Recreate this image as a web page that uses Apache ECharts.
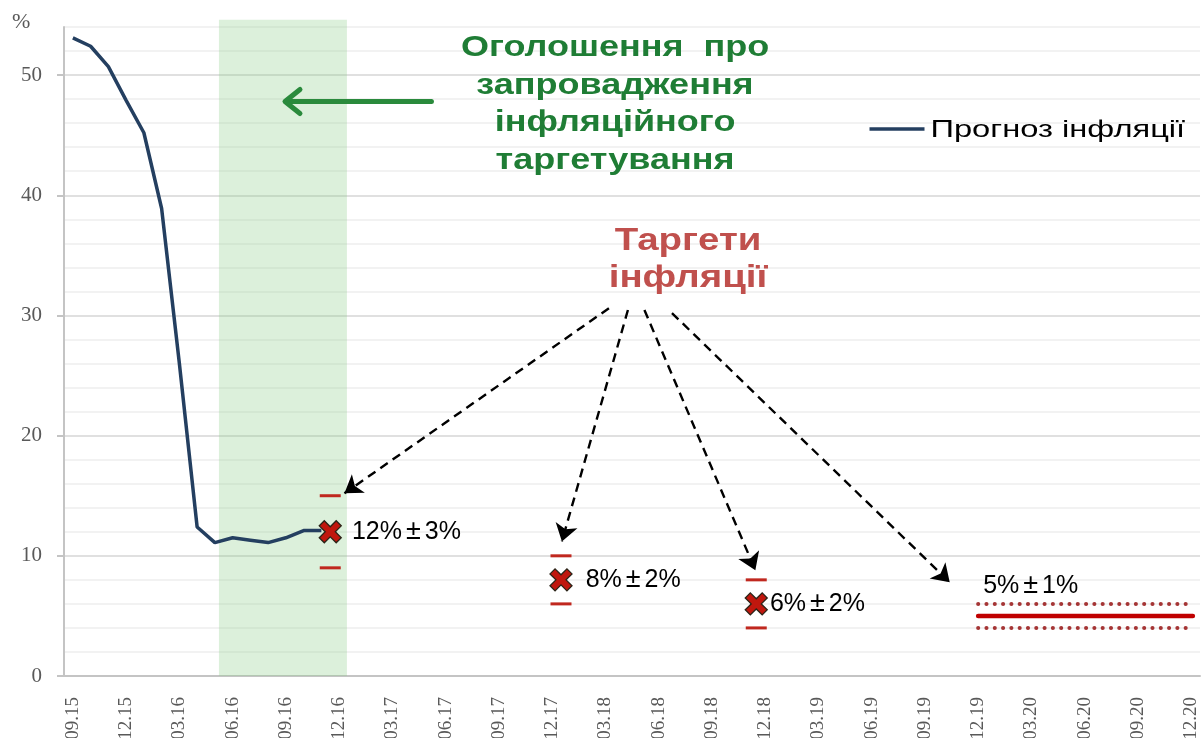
<!DOCTYPE html>
<html>
<head>
<meta charset="utf-8">
<script src="https://cdn.jsdelivr.net/npm/echarts@6/dist/echarts.min.js"></script>
<style>
  html, body { margin: 0; padding: 0; background: #fff; }
  #chart { width: 1203px; height: 738px; }
</style>
</head>
<body>
<div id="chart"></div>
<script>
// Monthly categories, Sep 2015 – Dec 2020 (every third one is labelled)
const months = [
  '09.15','10.15','11.15','12.15',
  '01.16','02.16','03.16','04.16','05.16','06.16','07.16','08.16','09.16','10.16','11.16','12.16',
  '01.17','02.17','03.17','04.17','05.17','06.17','07.17','08.17','09.17','10.17','11.17','12.17',
  '01.18','02.18','03.18','04.18','05.18','06.18','07.18','08.18','09.18','10.18','11.18','12.18',
  '01.19','02.19','03.19','04.19','05.19','06.19','07.19','08.19','09.19','10.19','11.19','12.19',
  '01.20','02.20','03.20','04.20','05.20','06.20','07.20','08.20','09.20','10.20','11.20','12.20'
];

// Inflation path, % y/y, monthly from 09.15
const seriesName = 'Прогноз інфляції';
const inflation = [53.1, 52.4, 50.7, 47.9, 45.2, 38.9, 26.0, 12.4, 11.1, 11.5, 11.3, 11.1, 11.5, 12.1, 12.1];

// Point targets: position on the month scale, target and tolerance
const targetPos = [14.5, 27.5, 38.5];
const targetVal = [12, 8, 6];
const targetTol = [3, 2, 2];
const targetLabelGap = [10, 13, 2];

// Medium-term target band
const longTargetSpan = [51.0, 63.1];
const longTargetVal = 5;
const longTargetTol = 1;

// Period of the inflation-targeting announcement (month scale) and top of the shaded band
const announceSpan = [8.23, 15.44];
const announceTop = 54.6;

// Annotation arrows in chart units [month, %]
const greenArrow = [[20.2, 47.8], [11.95, 47.8]];
const targetArrows = [
  [[30.2, 30.6], [15.3, 15.2]],
  [[31.27, 30.45], [27.55, 11.2]],
  [[32.2, 30.45], [38.45, 8.8]],
  [[33.75, 30.2], [49.4, 7.8]]
];

const yMajor = [0, 10, 20, 30, 40, 50];

const chart = echarts.init(document.getElementById('chart'));

const crossPath = 'path://M2.3,0 L5,2.7 L7.7,0 L10,2.3 L7.3,5 L10,7.7 L7.7,10 L5,7.3 L2.3,10 L0,7.7 L2.7,5 L0,2.3 Z';

const targetPoints = targetPos.map((x, i) => ({
  value: [x, targetVal[i], targetTol[i]],
  label: { distance: targetLabelGap[i] }
}));
const tolMarks = [];
targetPos.forEach((x, i) => {
  tolMarks.push([x, targetVal[i] + targetTol[i]]);
  tolMarks.push([x, targetVal[i] - targetTol[i]]);
});

const serif = '"Liberation Serif", "DejaVu Serif", serif';
const sans = '"Liberation Sans", Arial, sans-serif';

const targetLabel = {
  show: true,
  formatter: p => '{n|' + p.value[1] + '%}{pm|±}{n|' + p.value[2] + '%}',
  rich: {
    n: { fontFamily: sans, fontSize: 25, color: '#000' },
    pm: { fontFamily: sans, fontSize: 27, color: '#000', padding: [0, 4, 0, 4] }
  }
};

chart.setOption({
  animation: false,
  backgroundColor: '#ffffff',
  grid: { left: 64, right: 3, top: 27, bottom: 62, outerBoundsMode: 'none', containLabel: false },
  graphic: [
    {
      type: 'text', left: 12, top: 11, z: 100,
      style: { text: '%', font: '22px ' + serif, fill: '#595959' }
    },
    {
      type: 'text', x: 615, y: 29, scaleX: 1.2, z: 100,
      style: {
        text: 'Оголошення  про\nзапровадження\nінфляційного\nтаргетування',
        font: 'bold 30px ' + sans, fill: '#1f7d35', align: 'center', lineHeight: 37.5
      }
    },
    {
      type: 'text', x: 688, y: 223, scaleX: 1.24, z: 100,
      style: {
        text: 'Таргети\nінфляції',
        font: 'bold 31px ' + sans, fill: '#c0504d', align: 'center', lineHeight: 37
      }
    },
    {
      // legend entry
      type: 'group', left: 867, top: 118, z: 100,
      children: [
        { type: 'line', z: 100, shape: { x1: 0, y1: 13, x2: 55, y2: 13 }, style: { stroke: '#243f60', lineWidth: 3.5 } },
        {
          type: 'text', z: 100, x: 61, y: 14, scaleX: 1.36,
          style: { text: seriesName, font: '24px ' + sans, fill: '#000', verticalAlign: 'middle' }
        }
      ]
    }
  ],
  xAxis: [
    {
      type: 'category', data: months, boundaryGap: true,
      axisLine: { onZero: false, lineStyle: { color: '#c4c4c4', width: 2 } },
      axisTick: { show: false },
      axisLabel: {
        interval: 2, rotate: 90, margin: 21,
        fontFamily: serif, fontSize: 19, color: '#595959'
      },
      splitLine: { show: false }
    },
    { type: 'value', min: -0.5, max: 63.5, show: false }
  ],
  yAxis: [
    {
      // fine grid every 2 p.p., heavier every 10
      type: 'value', min: 0, max: 54, interval: 2,
      axisLine: { show: true, onZero: false, lineStyle: { color: '#c4c4c4', width: 2 } },
      axisTick: { show: false },
      axisLabel: { show: false },
      splitLine: {
        show: true,
        lineStyle: { color: ['#d6d6d6', '#eeeeee', '#eeeeee', '#eeeeee', '#eeeeee'], width: 1.5 }
      }
    },
    {
      // labelled ticks
      type: 'value', min: 0, max: 54, interval: 10, position: 'left',
      axisLine: { show: false, onZero: false },
      axisTick: { show: true, length: 7, customValues: yMajor, lineStyle: { color: '#c4c4c4', width: 2 } },
      axisLabel: { customValues: yMajor, margin: 22, fontFamily: serif, fontSize: 21, color: '#595959' },
      splitLine: { show: false }
    }
  ],
  series: [
    {
      // shaded announcement period
      type: 'custom', xAxisIndex: 1, z: 1, silent: true,
      data: [[announceSpan[0], announceSpan[1], announceTop]],
      renderItem: function (params, api) {
        const p0 = api.coord([api.value(0), api.value(2)]);
        const p1 = api.coord([api.value(1), 0]);
        return {
          type: 'rect',
          shape: { x: p0[0], y: p0[1], width: p1[0] - p0[0], height: p1[1] - p0[1] },
          style: { fill: 'rgba(140, 205, 135, 0.3)' }
        };
      }
    },
    {
      name: seriesName,
      type: 'line', data: inflation, xAxisIndex: 0, z: 3,
      symbol: 'none', smooth: false,
      lineStyle: { color: '#243f60', width: 3.5 },
      itemStyle: { color: '#243f60' }
    },
    {
      // green pointer to the shaded period
      type: 'custom', xAxisIndex: 1, z: 4, silent: true,
      data: [[greenArrow[0][0], greenArrow[0][1], greenArrow[1][0], greenArrow[1][1]]],
      renderItem: function (params, api) {
        const a = api.coord([api.value(0), api.value(1)]);
        const b = api.coord([api.value(2), api.value(3)]);
        const st = { stroke: '#2a8a3c', lineWidth: 5, lineCap: 'round', lineJoin: 'round', fill: null };
        return {
          type: 'group',
          children: [
            { type: 'line', shape: { x1: a[0], y1: a[1], x2: b[0] + 2, y2: b[1] }, style: st },
            { type: 'polyline', shape: { points: [[b[0] + 15, b[1] - 12], [b[0], b[1]], [b[0] + 15, b[1] + 12]] }, style: st }
          ]
        };
      }
    },
    {
      // dashed pointers from the caption to each target
      type: 'lines', coordinateSystem: 'cartesian2d', xAxisIndex: 1, z: 4, silent: true,
      symbol: ['none', 'arrow'], symbolSize: 17,
      lineStyle: { color: '#000', width: 2.4, type: [9, 6], opacity: 1 },
      data: targetArrows.map(c => ({ coords: c }))
    },
    {
      // tolerance bounds of point targets
      type: 'scatter', xAxisIndex: 1, z: 5, silent: true,
      symbol: 'rect', symbolSize: [21, 3],
      itemStyle: { color: '#c0281f', opacity: 1 },
      data: tolMarks
    },
    {
      // point targets
      type: 'scatter', xAxisIndex: 1, z: 6, silent: true,
      symbol: crossPath, symbolSize: 22,
      itemStyle: { color: '#c0170e', borderColor: '#2a2418', borderWidth: 1.3, opacity: 1 },
      label: Object.assign({ position: 'right' }, targetLabel),
      data: targetPoints
    },
    {
      // medium-term target
      type: 'line', xAxisIndex: 1, z: 5, silent: true, symbol: 'none',
      lineStyle: { color: '#c00000', width: 4.5, cap: 'round' },
      data: [[longTargetSpan[0], longTargetVal], [longTargetSpan[1], longTargetVal]]
    },
    {
      type: 'line', xAxisIndex: 1, z: 5, silent: true, symbol: 'none',
      lineStyle: { color: '#a53535', width: 4, type: [0.1, 8.2], cap: 'round' },
      data: [[longTargetSpan[0], longTargetVal + longTargetTol], [longTargetSpan[1], longTargetVal + longTargetTol]]
    },
    {
      type: 'line', xAxisIndex: 1, z: 5, silent: true, symbol: 'none',
      lineStyle: { color: '#a53535', width: 4, type: [0.1, 8.2], cap: 'round' },
      data: [[longTargetSpan[0], longTargetVal - longTargetTol], [longTargetSpan[1], longTargetVal - longTargetTol]]
    },
    {
      type: 'scatter', xAxisIndex: 1, z: 6, silent: true,
      symbolSize: 0,
      itemStyle: { opacity: 1 },
      label: Object.assign({ position: [5, -30], align: 'left', verticalAlign: 'middle' }, targetLabel),
      data: [[longTargetSpan[0], longTargetVal, longTargetTol]]
    }
  ]
});
</script>
</body>
</html>
